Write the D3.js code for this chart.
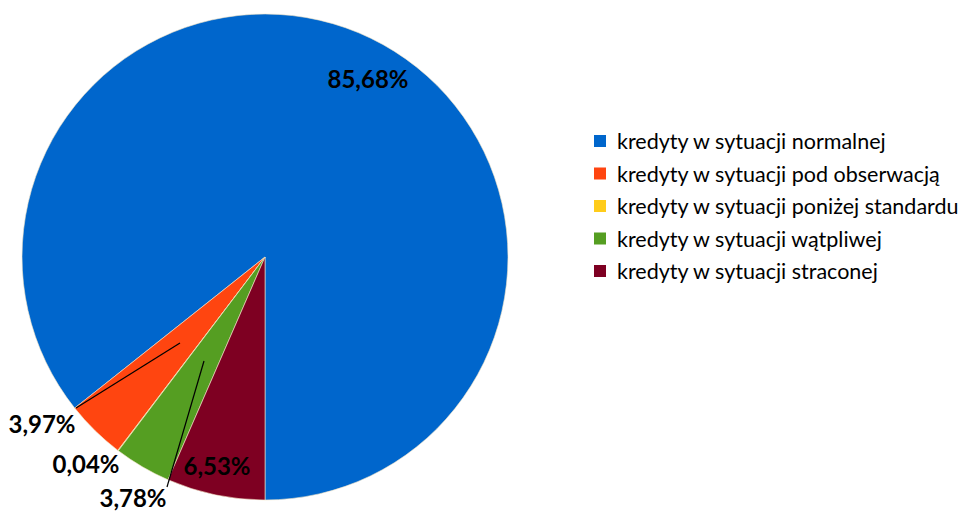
<!DOCTYPE html>
<html>
<head>
<meta charset="utf-8">
<script src="https://cdn.jsdelivr.net/npm/d3@7"></script>
<style>
  body { margin: 0; background: #fff; }
  text { font-family: Lato, "Open Sans", sans-serif; }
</style>
</head>
<body>
<div id="chart"></div>
<script>
// data
const categories = [
  'kredyty w sytuacji normalnej',
  'kredyty w sytuacji pod obserwacją',
  'kredyty w sytuacji poniżej standardu',
  'kredyty w sytuacji wątpliwej',
  'kredyty w sytuacji straconej'
];
const values = [85.68, 3.97, 0.04, 3.78, 6.53];
const valueLabels = ['85,68%', '3,97%', '0,04%', '3,78%', '6,53%'];
const colors = ['#0066CC', '#FF4510', '#FFCC1A', '#559E22', '#7E0022'];

const width = 971, height = 511;
const cx = 265, cy = 257, radius = 243;

const svg = d3.select('#chart').append('svg')
  .attr('width', width)
  .attr('height', height);

const g = svg.append('g').attr('transform', `translate(${cx},${cy})`);

// slices go counterclockwise from 6 o'clock
const pie = d3.pie().sort(null).value(d => d)
  .startAngle(Math.PI).endAngle(-Math.PI);
const pieData = pie(values);

const arc = d3.arc().innerRadius(0).outerRadius(radius);

g.selectAll('path')
  .data(pieData)
  .enter()
  .append('path')
  .attr('d', arc)
  .attr('fill', (d, i) => colors[i])
  .attr('stroke', '#f3e6c8')
  .attr('stroke-width', 0.6);

// label positions, and leader lines for the thin slices
const labelPos = [
  { text: [103, -179] },
  { text: [-223, 166], line: [[-85, 86], [-189, 151]] },
  { text: [-179, 206] },
  { text: [-132, 240], line: [[-61, 104], [-98, 230]] },
  { text: [-48, 208] }
];

pieData.forEach((d, i) => {
  const p = labelPos[i];
  if (p.line) {
    g.append('line')
      .attr('x1', p.line[0][0]).attr('y1', p.line[0][1])
      .attr('x2', p.line[1][0]).attr('y2', p.line[1][1])
      .attr('stroke', '#000').attr('stroke-width', 1.2);
  }
  g.append('text')
    .attr('x', p.text[0]).attr('y', p.text[1])
    .attr('text-anchor', 'middle')
    .attr('dominant-baseline', 'central')
    .attr('font-size', 24)
    .attr('font-weight', 'bold')
    .attr('fill', '#000')
    .text(valueLabels[i]);
});

// legend
const legend = svg.append('g').attr('transform', 'translate(594,141)');
const item = legend.selectAll('g')
  .data(categories)
  .enter()
  .append('g')
  .attr('transform', (d, i) => `translate(0,${i * 32.5})`);

item.append('rect')
  .attr('x', 0).attr('y', -6)
  .attr('width', 12).attr('height', 12)
  .attr('fill', (d, i) => colors[i]);

item.append('text')
  .attr('x', 23).attr('y', 0)
  .attr('dominant-baseline', 'central')
  .attr('font-size', 21.5)
  .attr('fill', '#000')
  .text(d => d);
</script>
</body>
</html>
